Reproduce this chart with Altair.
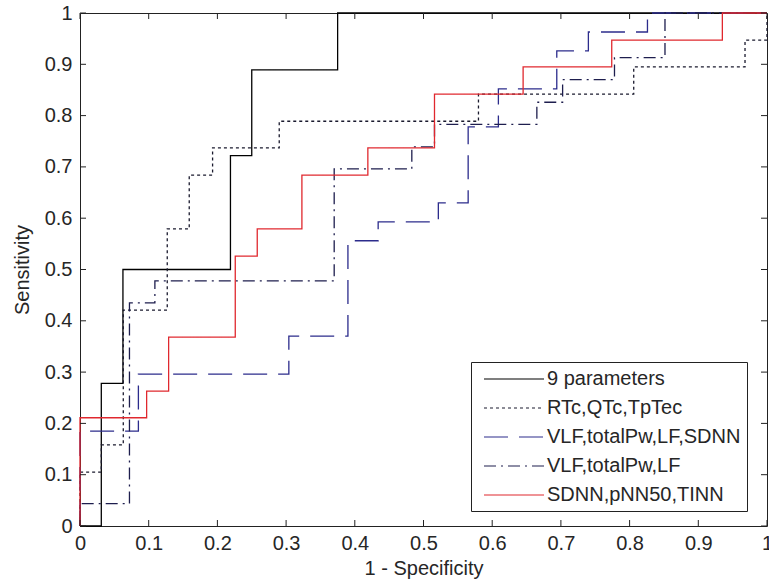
import altair as alt
import pandas as pd

# ---- data ----
series_names = ["9 parameters", "RTc,QTc,TpTec", "VLF,totalPw,LF,SDNN",
                "VLF,totalPw,LF", "SDNN,pNN50,TINN"]

# ROC points (1 - specificity, sensitivity), drawn as step-after stairs
x_9par = [0, 0.031, 0.0625, 0.219, 0.25, 0.375, 1.0]
y_9par = [0, 0.278, 0.5, 0.722, 0.889, 1.0, 1.0]

x_rtc = [0, 0, 0.031, 0.063, 0.127, 0.159, 0.193, 0.29, 0.58, 0.806, 0.968, 1.0]
y_rtc = [0, 0.105, 0.158, 0.421, 0.579, 0.684, 0.737, 0.789, 0.842, 0.895, 0.947, 1.0]

x_vlf4 = [0, 0, 0.085, 0.304, 0.390, 0.434, 0.5216, 0.565, 0.609, 0.694, 0.74, 0.826, 1.0]
y_vlf4 = [0, 0.185, 0.296, 0.370, 0.556, 0.593, 0.630, 0.778, 0.852, 0.926, 0.963, 1.0, 1.0]

x_vlf3 = [0, 0, 0.072, 0.109, 0.370, 0.483, 0.516, 0.665, 0.7025, 0.778, 0.8515, 1.0]
y_vlf3 = [0, 0.0435, 0.435, 0.478, 0.696, 0.739, 0.783, 0.826, 0.870, 0.913, 1.0, 1.0]

x_sdnn = [0, 0, 0.097, 0.129, 0.226, 0.258, 0.323, 0.419, 0.516, 0.645, 0.774, 0.935, 1.0]
y_sdnn = [0, 0.211, 0.263, 0.368, 0.526, 0.579, 0.684, 0.737, 0.842, 0.895, 0.947, 1.0, 1.0]

tick_values = [0, 0.1, 0.2, 0.3, 0.4, 0.5, 0.6, 0.7, 0.8, 0.9, 1.0]

series_colors = ["#000000", "#1a1a2e", "#2c2c8c", "#1e1e4e", "#e0282e"]
series_dashes = [[1, 0], [3, 3], [24, 11], [12, 5, 2, 5], [1, 0]]

# ---- build table ----
rows = []
for name, xs, ys in zip(series_names,
                        [x_9par, x_rtc, x_vlf4, x_vlf3, x_sdnn],
                        [y_9par, y_rtc, y_vlf4, y_vlf3, y_sdnn]):
    for i, (xv, yv) in enumerate(zip(xs, ys)):
        rows.append({"series": name, "fpr": xv, "tpr": yv, "idx": i})
df = pd.DataFrame(rows)
ticks_df = pd.DataFrame({"v": tick_values})

W, H = 687, 513
FONT = "Liberation Sans"
FS = 20
TXT = "#262626"

xscale = alt.Scale(domain=[0, 1], nice=False, zero=False)
yscale = alt.Scale(domain=[0, 1], nice=False, zero=False)

x_axis = alt.Axis(values=tick_values, format=".1~f", title="1 - Specificity",
                  ticks=False, domain=False, grid=False, labelPadding=7,
                  labelFlush=False, labelOverlap=False,
                  labelFont=FONT, labelFontSize=FS, labelColor=TXT,
                  titleFont=FONT, titleFontSize=FS, titleFontWeight="normal",
                  titleColor=TXT, titleY=42, titleBaseline="middle")
y_axis = alt.Axis(values=tick_values, format=".1~f", title="Sensitivity",
                  ticks=False, domain=False, grid=False, labelPadding=8,
                  labelFlush=False, labelOverlap=False,
                  labelFont=FONT, labelFontSize=FS, labelColor=TXT,
                  titleFont=FONT, titleFontSize=FS, titleFontWeight="normal",
                  titleColor=TXT, titleX=-58, titleY=H / 2,
                  titleBaseline="middle", titleAlign="center")

leg = alt.Legend(
    orient="none", legendX=391, legendY=349, title=None,
    symbolType="M-1,0H5", symbolSize=400, symbolStrokeWidth=1.2,
    symbolOffset=6, labelOffset=42,
    labelFont=FONT, labelFontSize=FS, labelColor=TXT, labelLimit=500,
    padding=6, rowPadding=8,
    strokeColor="#222222", fillColor="white",
)

lines = alt.Chart(df).mark_line(interpolate="step-after", strokeWidth=1.3, clip=False).encode(
    x=alt.X("fpr:Q", scale=xscale, axis=x_axis),
    y=alt.Y("tpr:Q", scale=yscale, axis=y_axis),
    color=alt.Color("series:N", sort=series_names,
                    scale=alt.Scale(domain=series_names, range=series_colors), legend=leg),
    strokeDash=alt.StrokeDash("series:N", sort=series_names,
                              scale=alt.Scale(domain=series_names, range=series_dashes), legend=leg),
    order="idx:Q",
)

tick_col = "#222222"
bottom_ticks = alt.Chart(ticks_df).mark_rule(color=tick_col, strokeWidth=1).encode(
    x=alt.X("v:Q", scale=xscale, axis=x_axis), y=alt.value(H), y2=alt.value(H - 6))
top_ticks = alt.Chart(ticks_df).mark_rule(color=tick_col, strokeWidth=1).encode(
    x=alt.X("v:Q", scale=xscale, axis=x_axis), y=alt.value(0), y2=alt.value(6))
left_ticks = alt.Chart(ticks_df).mark_rule(color=tick_col, strokeWidth=1).encode(
    y=alt.Y("v:Q", scale=yscale, axis=y_axis), x=alt.value(0), x2=alt.value(6))
right_ticks = alt.Chart(ticks_df).mark_rule(color=tick_col, strokeWidth=1).encode(
    y=alt.Y("v:Q", scale=yscale, axis=y_axis), x=alt.value(W), x2=alt.value(W - 6))

chart = alt.layer(lines, bottom_ticks, top_ticks, left_ticks, right_ticks).properties(
    width=W, height=H,
    padding={"left": 80, "top": 13, "right": 2, "bottom": 61},
    autosize=alt.AutoSizeParams(type="none"),
    background="white",
).configure_view(stroke="#222222", strokeWidth=1)

chart.save("out.html", embed_options={"renderer": "svg", "actions": False})
